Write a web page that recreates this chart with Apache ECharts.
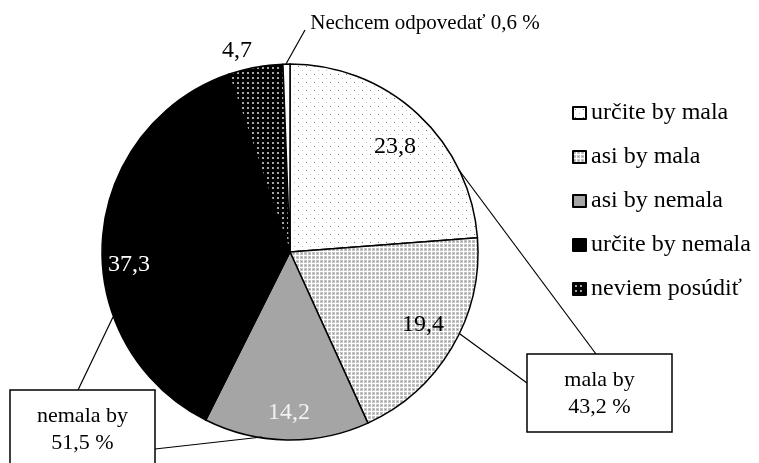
<!DOCTYPE html>
<html>
<head>
<meta charset="utf-8">
<script src="https://cdn.jsdelivr.net/npm/echarts@6/dist/echarts.min.js"></script>
<style>
html,body{margin:0;padding:0;background:#fff;}
#chart{width:759px;height:463px;}
</style>
</head>
<body>
<div id="chart"></div>
<script>
// ---- data ----
const categories = ['určite by mala', 'asi by mala', 'asi by nemala', 'určite by nemala', 'neviem posúdiť', 'Nechcem odpovedať'];
const values = [23.8, 19.4, 14.2, 37.3, 4.7, 0.6];
const legendItems = ['určite by mala', 'asi by mala', 'asi by nemala', 'určite by nemala', 'neviem posúdiť'];
const groupNames = ['mala by', 'nemala by'];
const groupMembers = [[0, 1], [2, 3]];

// ---- patterns ----
function makePattern(w, h, draw) {
  const c = document.createElement('canvas');
  c.width = w; c.height = h;
  const ctx = c.getContext('2d');
  draw(ctx, w, h);
  return { image: c, repeat: 'repeat' };
}
const patSparse = makePattern(8, 8, (ctx, w, h) => {
  ctx.fillStyle = '#ffffff'; ctx.fillRect(0, 0, w, h);
  ctx.fillStyle = '#7a7a7a'; ctx.fillRect(2, 2, 1, 1);
  ctx.fillStyle = '#c0c0c0'; ctx.fillRect(6, 6, 1, 1);
});
const patDense = makePattern(4, 4, (ctx, w, h) => {
  ctx.fillStyle = '#c4c4c4'; ctx.fillRect(0, 0, w, h);
  ctx.fillStyle = '#ffffff'; ctx.fillRect(3, 0, 1, 4); ctx.fillRect(0, 3, 4, 1);
  ctx.fillStyle = '#9a9a9a'; ctx.fillRect(1, 1, 1, 1);
});
const patDark = makePattern(5, 5, (ctx, w, h) => {
  ctx.fillStyle = '#000000'; ctx.fillRect(0, 0, w, h);
  ctx.fillStyle = '#a8a8a8'; ctx.fillRect(2, 2, 2, 2);
});
const sliceColors = [patSparse, patDense, '#a5a5a5', '#000000', patDark, '#ffffff'];
const labelColors = ['#000', '#000', '#f2f2f2', '#fff', '#000', '#000'];
const labelPos = [[395, 147], [423, 325], [289, 413], [129, 265], [237, 51], [425, 23]];

const fmt = v => v.toFixed(1).replace('.', ',');
const cx = 290, cy = 252, R = 188;
const serif = '"Liberation Serif", "Times New Roman", serif';

const chart = echarts.init(document.getElementById('chart'), null, { renderer: 'canvas' });

const data = categories.map((n, i) => ({
  name: n,
  value: values[i],
  itemStyle: { color: sliceColors[i] },
  label: { color: labelColors[i] }
}));

const groupTotals = groupMembers.map(m => m.reduce((s, i) => s + values[i], 0));

function boxText(x, y, w, h, name, total) {
  return [
    { type: 'rect', shape: { x: x, y: y, width: w, height: h }, style: { fill: '#fff', stroke: '#000', lineWidth: 1.5 }, z: 10 },
    { type: 'text', x: x + w / 2, y: y + 26, style: { text: name, font: '22px ' + serif, fill: '#000', align: 'center', verticalAlign: 'middle' }, z: 11 },
    { type: 'text', x: x + w / 2, y: y + 53, style: { text: fmt(total) + ' %', font: '22px ' + serif, fill: '#000', align: 'center', verticalAlign: 'middle' }, z: 11 }
  ];
}
function seg(x1, y1, x2, y2) {
  return { type: 'line', shape: { x1: x1, y1: y1, x2: x2, y2: y2 }, style: { stroke: '#000', lineWidth: 1.2 }, z: 9 };
}

chart.setOption({
  animation: false,
  backgroundColor: '#fff',
  legend: {
    data: legendItems,
    orient: 'vertical',
    left: 572,
    top: 101,
    padding: 0,
    itemWidth: 13,
    itemHeight: 12,
    itemGap: 20,
    icon: 'rect',
    textStyle: { fontFamily: serif, fontSize: 24, color: '#000', lineHeight: 24 },
    selectedMode: false
  },
  series: [{
    type: 'pie',
    center: [cx, cy],
    radius: [0, R],
    startAngle: 90,
    clockwise: true,
    avoidLabelOverlap: false,
    data: data,
    itemStyle: { borderColor: '#000', borderWidth: 1.5 },
    emphasis: { disabled: true },
    label: {
      show: true,
      position: 'inside',
      fontFamily: serif,
      fontSize: 24,
      formatter: p => p.dataIndex === 5 ? p.name + ' ' + fmt(p.value) + ' %' : fmt(p.value)
    },
    labelLine: { show: false },
    labelLayout: p => {
      const pos = labelPos[p.dataIndex];
      return { x: pos[0], y: pos[1], align: 'center', verticalAlign: 'middle', fontSize: p.dataIndex === 5 ? 21 : 24 };
    }
  }],
  graphic: [
    seg(286, 64, 305, 30),
    seg(459, 170, 596, 354),
    seg(460, 334, 527, 383),
    seg(113, 317, 78, 390),
    seg(262, 437, 155, 449),
    ...boxText(527, 354, 145, 78, groupNames[0], groupTotals[0]),
    ...boxText(10, 390, 145, 95, groupNames[1], groupTotals[1])
  ]
});
</script>
</body>
</html>
